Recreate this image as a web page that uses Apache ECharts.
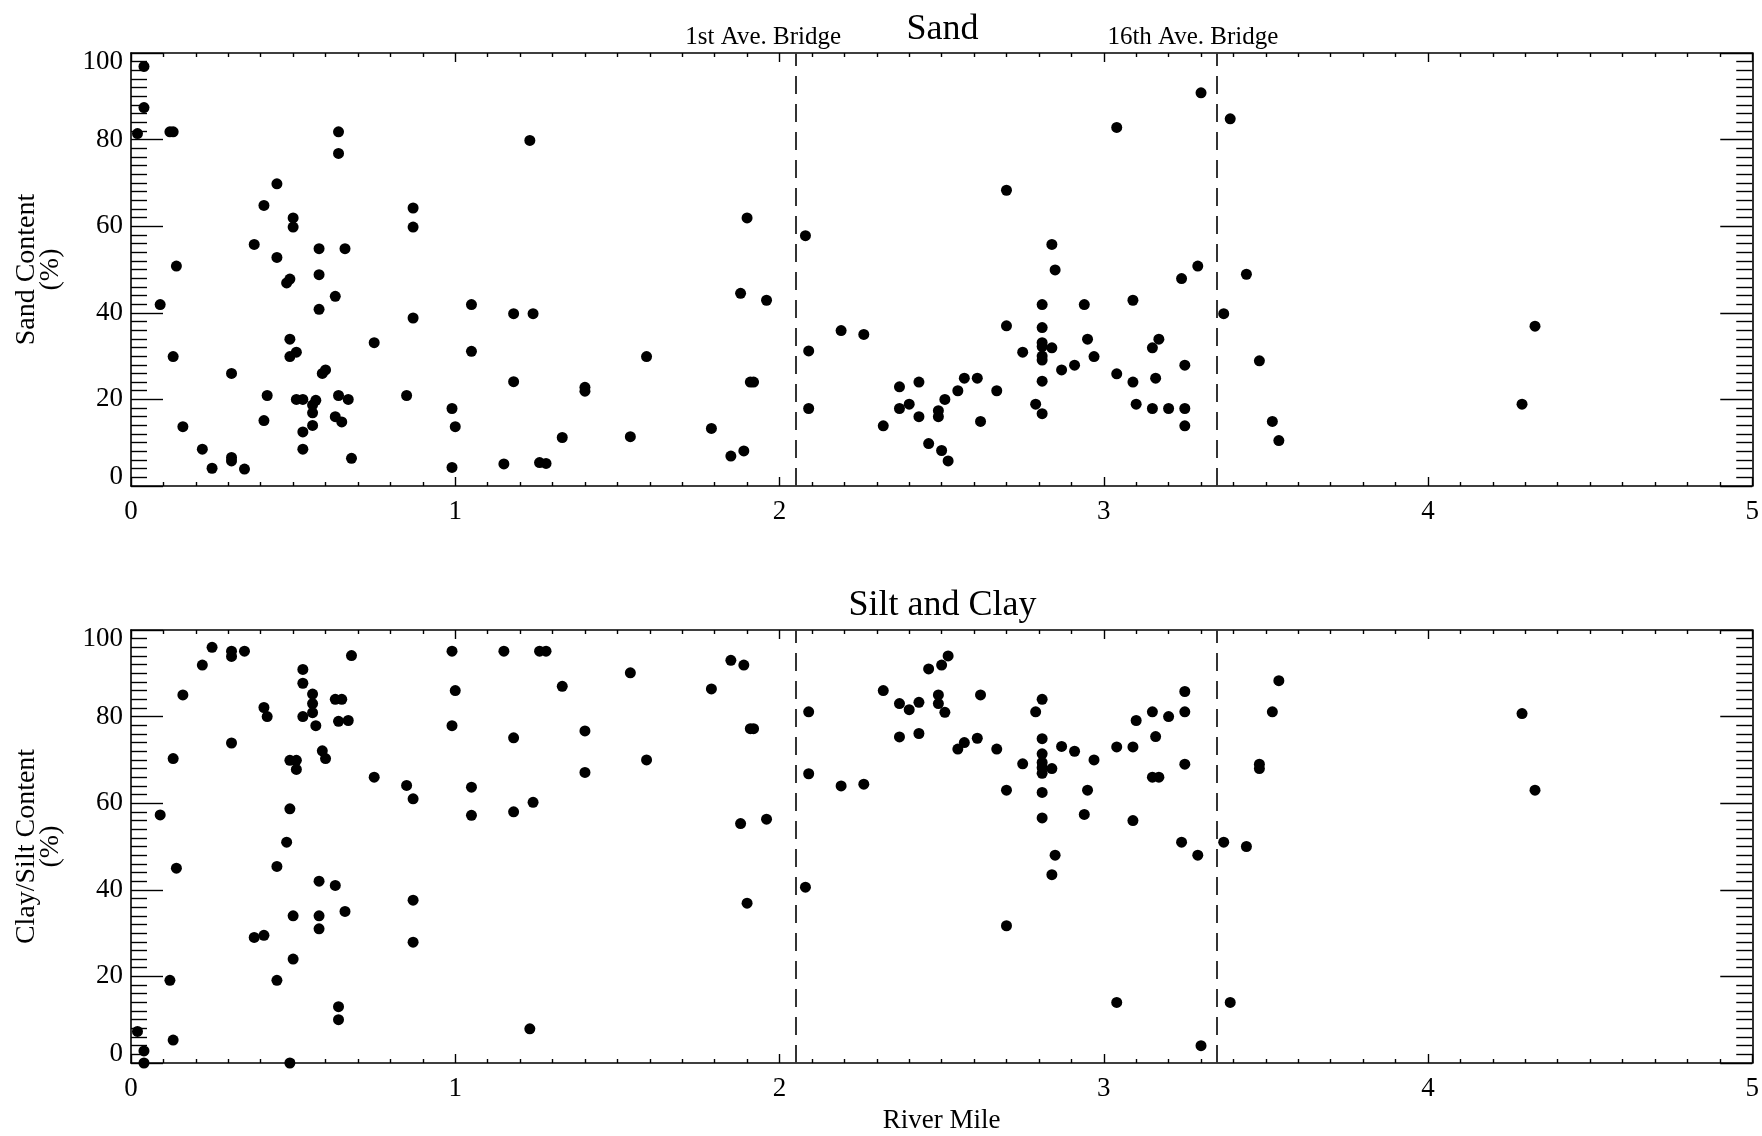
<!DOCTYPE html>
<html>
<head>
<meta charset="utf-8">
<script src="https://cdn.jsdelivr.net/npm/echarts@6/dist/echarts.min.js"></script>
<style>
  * { margin: 0; padding: 0; }
  body { background: #fff; }
  #main { width: 1762px; height: 1136px; }
</style>
</head>
<body>
<div id="main"></div>
<script>
// sand content (%) by river mile
var sandMile = [0.04, 0.04, 0.02, 0.12, 0.13, 0.14, 0.09, 0.13, 0.16, 0.22, 0.25, 0.31, 0.31, 0.31, 0.35,
  0.38, 0.41, 0.41, 0.42, 0.45, 0.45, 0.48, 0.49, 0.49, 0.49, 0.50, 0.50, 0.51, 0.51, 0.53, 0.53, 0.53,
  0.56, 0.56, 0.57, 0.56, 0.58, 0.58, 0.58, 0.59, 0.60, 0.63, 0.63, 0.64, 0.64, 0.64, 0.65, 0.66, 0.67,
  0.68, 0.75, 0.85, 0.87, 0.87, 0.87, 0.99, 0.99, 1.00, 1.05, 1.05, 1.15, 1.18, 1.18, 1.23, 1.24, 1.26,
  1.28, 1.33, 1.40, 1.40,
  1.54, 1.59, 1.79, 1.85, 1.89, 1.88, 1.90, 1.91, 1.92, 1.96, 2.08, 2.09, 2.09, 2.19, 2.26, 2.32, 2.37,
  2.37, 2.40, 2.43, 2.43, 2.46, 2.49, 2.49, 2.50, 2.51, 2.52, 2.55, 2.57, 2.61, 2.62, 2.67, 2.70, 2.70,
  2.75, 2.79, 2.81, 2.81, 2.81, 2.81, 2.81, 2.81, 2.81, 2.81, 2.84, 2.85, 2.84, 2.87, 2.91, 2.94, 2.95,
  2.97, 3.04, 3.04, 3.09, 3.09, 3.10, 3.15, 3.16, 3.17, 3.15, 3.20,
  3.24, 3.25, 3.25, 3.25, 3.29, 3.30, 3.37, 3.39, 3.44, 3.48, 3.52, 3.54, 4.29, 4.33];
var sandPct = [96.9, 87.4, 81.4, 81.8, 81.8, 50.8, 41.9, 29.9, 13.7, 8.5, 4.1, 26.0, 6.6, 5.8, 3.9,
  55.8, 64.8, 15.1, 20.9, 69.8, 52.8, 46.9, 47.8, 33.9, 29.9, 61.9, 59.8, 30.9, 20.0, 20.0, 12.5, 8.5,
  16.9, 18.7, 19.8, 14.0, 54.8, 48.8, 40.8, 26.0, 26.8, 43.8, 16.0, 81.8, 76.8, 20.9, 14.8, 54.8, 20.0,
  6.4, 33.1, 20.9, 64.2, 59.8, 38.8, 17.9, 4.3, 13.7, 41.9, 31.1, 5.1, 39.8, 24.1, 79.8, 39.8, 5.4,
  5.2, 11.2, 22.8, 21.9,
  11.4, 29.9, 13.3, 6.9, 8.1, 44.5, 61.9, 24.0, 24.0, 42.9, 57.8, 31.2, 17.9, 35.9, 35.0, 13.9, 22.9,
  17.9, 18.9, 24.0, 16.0, 9.8, 17.4, 16.0, 8.2, 20.0, 5.8, 22.0, 24.9, 24.9, 14.9, 22.0, 68.3, 37.0,
  30.9, 18.9, 41.9, 36.6, 33.1, 32.2, 30.0, 29.1, 24.2, 16.7, 55.8, 49.9, 31.9, 26.8, 27.9, 41.9, 33.9,
  29.9, 82.8, 25.9, 42.9, 24.0, 18.9, 31.9, 24.9, 33.9, 17.9, 17.9,
  47.9, 27.9, 17.9, 13.9, 50.8, 90.8, 39.8, 84.8, 48.9, 28.9, 14.9, 10.5, 18.9, 36.9];

// clay/silt content (%) by river mile
var finesMile = [0.02, 0.04, 0.04, 0.09, 0.12, 0.13, 0.14, 0.13, 0.16, 0.22, 0.25, 0.31, 0.31, 0.31, 0.35,
  0.38, 0.41, 0.42, 0.41, 0.45, 0.45, 0.48, 0.49, 0.49, 0.51, 0.51, 0.49, 0.50, 0.50, 0.53, 0.53, 0.53,
  0.56, 0.56, 0.56, 0.57, 0.58, 0.58, 0.58, 0.59, 0.60, 0.63, 0.65, 0.64, 0.67, 0.63, 0.66, 0.64, 0.64,
  0.68, 0.75, 0.85, 0.87, 0.87, 0.87, 0.99, 1.00, 0.99, 1.05, 1.05, 1.15, 1.18, 1.18, 1.23, 1.24, 1.26,
  1.28, 1.33, 1.40, 1.40,
  1.54, 1.59, 1.79, 1.85, 1.89, 1.88, 1.91, 1.92, 1.90, 1.96, 2.09, 2.09, 2.08, 2.19, 2.26, 2.32, 2.37,
  2.37, 2.40, 2.43, 2.43, 2.46, 2.49, 2.49, 2.50, 2.51, 2.52, 2.55, 2.57, 2.61, 2.62, 2.67, 2.70, 2.70,
  2.75, 2.79, 2.81, 2.81, 2.81, 2.81, 2.81, 2.81, 2.81, 2.81, 2.84, 2.85, 2.84, 2.87, 2.91, 2.95, 2.94,
  2.97, 3.04, 3.04, 3.09, 3.09, 3.10, 3.15, 3.16, 3.15, 3.17, 3.20,
  3.24, 3.25, 3.25, 3.25, 3.29, 3.30, 3.37, 3.39, 3.44, 3.48, 3.48, 3.52, 3.54, 4.29, 4.33];
var finesPct = [7.3, 2.8, 0, 57.3, 19.1, 70.3, 45.0, 5.3, 85.0, 91.9, 96.0, 95.1, 93.9, 73.9, 95.1,
  29.0, 82.1, 80.0, 29.5, 45.4, 19.1, 51.0, 58.7, 69.9, 69.9, 67.8, 0, 34.0, 24.0, 90.9, 87.7, 80.0,
  85.2, 83.0, 80.9, 77.9, 42.0, 34.0, 31.0, 72.1, 70.3, 84.0, 84.0, 78.9, 79.1, 41.0, 35.0, 13.0, 10.0,
  94.1, 66.0, 64.1, 61.0, 37.6, 27.9, 95.1, 86.0, 77.9, 63.7, 57.2, 95.1, 75.1, 58.0, 7.9, 60.2, 95.1,
  95.1, 87.0, 76.7, 67.1,
  90.1, 70.0, 86.4, 93.0, 91.9, 55.3, 77.2, 77.2, 36.9, 56.3, 81.1, 66.8, 40.6, 64.0, 64.4, 86.0, 83.0,
  75.3, 81.6, 83.3, 76.1, 91.0, 85.0, 83.0, 91.9, 81.0, 94.0, 72.5, 74.0, 75.0, 85.0, 72.5, 63.0, 31.7,
  69.1, 81.1, 84.0, 74.9, 71.4, 69.4, 68.2, 66.9, 62.5, 56.6, 68.0, 48.0, 43.5, 73.1, 72.0, 63.0, 57.4,
  70.0, 73.0, 14.0, 73.0, 56.0, 79.1, 81.1, 75.4, 66.0, 66.0, 80.0,
  51.0, 85.8, 81.1, 69.0, 48.0, 4.0, 51.0, 14.0, 50.0, 69.0, 68.0, 81.1, 88.3, 80.7, 63.0];

var bridgeMile = [2.05, 3.35];
var bridgeName = ['1st Ave. Bridge', '16th Ave. Bridge'];
var bridgeLabelMile = [1.95, 3.275];

var FONT = '"Liberation Serif", "Times New Roman", "DejaVu Serif", serif';
var gridLeft = 131, gridWidth = 1623, gridHeight = 433;
var gridTops = [53, 630];
var pxPerMile = gridWidth / 5;

function pairs(m, p) {
  return m.map(function (x, i) { return [x, p[i]]; });
}

function xAx(g, pos, showLabel, name) {
  return {
    type: 'value', gridIndex: g, position: pos, min: 0, max: 5, interval: 1,
    axisLine: { show: true, onZero: false, lineStyle: { color: '#000', width: 1.6 } },
    axisTick: { show: true, inside: true, length: 9, lineStyle: { color: '#000', width: 1.4 } },
    minorTick: { show: true, splitNumber: 10, length: 4, lineStyle: { color: '#000', width: 1.4 } },
    axisLabel: { show: showLabel, margin: 12, color: '#000', fontFamily: FONT, fontSize: 27 },
    splitLine: { show: false },
    name: name || '', nameLocation: 'middle', nameGap: 44,
    nameTextStyle: { color: '#000', fontFamily: FONT, fontSize: 27 }
  };
}

function yAx(g, pos, showLabel, name) {
  return {
    type: 'value', gridIndex: g, position: pos, min: 0, max: 100, interval: 20,
    axisLine: { show: true, onZero: false, lineStyle: { color: '#000', width: 1.6 } },
    axisTick: { show: true, inside: true, length: 32, lineStyle: { color: '#000', width: 1.4 } },
    minorTick: { show: true, splitNumber: 10, length: 16, lineStyle: { color: '#000', width: 1.4 } },
    axisLabel: {
      show: showLabel, margin: 8, color: '#000', fontFamily: FONT, fontSize: 27,
      formatter: function (v) {
        if (v === 0) return '{lo|0}';
        if (v === 100) return '{hi|100}';
        return String(v);
      },
      rich: {
        lo: { fontFamily: FONT, fontSize: 27, color: '#000', padding: [0, 0, 18, 0] },
        hi: { fontFamily: FONT, fontSize: 27, color: '#000', padding: [18, 0, 0, 0] }
      }
    },
    splitLine: { show: false },
    name: name || '', nameLocation: 'middle', nameRotate: 90, nameGap: 68,
    nameTextStyle: { color: '#000', fontFamily: FONT, fontSize: 28, lineHeight: 24, align: 'center' }
  };
}

function bridgeLines(withLabels) {
  return {
    silent: true, symbol: ['none', 'none'], animation: false,
    lineStyle: { color: '#333', width: 2, type: [18, 10] },
    label: { show: withLabels, position: 'end', distance: 3, color: '#000', fontFamily: FONT, fontSize: 25,
      formatter: function (p) { return p.name; } },
    data: bridgeMile.map(function (m, i) {
      return { xAxis: m, name: bridgeName[i],
        label: { offset: [(bridgeLabelMile[i] - m) * pxPerMile, 0] } };
    })
  };
}

var chart = echarts.init(document.getElementById('main'));
chart.setOption({
  animation: false,
  backgroundColor: '#fff',
  grid: gridTops.map(function (t) {
    return { left: gridLeft, top: t, width: gridWidth, height: gridHeight };
  }),
  xAxis: [xAx(0, 'bottom', true), xAx(0, 'top', false), xAx(1, 'bottom', true, 'River Mile'), xAx(1, 'top', false)],
  yAxis: [yAx(0, 'left', true, 'Sand Content\n(%)'), yAx(0, 'right', false),
    yAx(1, 'left', true, 'Clay/Silt Content\n(%)'), yAx(1, 'right', false)],
  graphic: [
    { type: 'text', x: gridLeft + gridWidth / 2, y: 30, style: { text: 'Sand', align: 'center', verticalAlign: 'middle', fill: '#000', font: '36px ' + FONT } },
    { type: 'text', x: gridLeft + gridWidth / 2, y: 606, style: { text: 'Silt and Clay', align: 'center', verticalAlign: 'middle', fill: '#000', font: '36px ' + FONT } }
  ],
  series: [
    { type: 'scatter', xAxisIndex: 0, yAxisIndex: 0, data: pairs(sandMile, sandPct),
      symbol: 'circle', symbolSize: 11, itemStyle: { color: '#000', opacity: 1 }, markLine: bridgeLines(true) },
    { type: 'scatter', xAxisIndex: 2, yAxisIndex: 2, data: pairs(finesMile, finesPct),
      symbol: 'circle', symbolSize: 11, itemStyle: { color: '#000', opacity: 1 }, markLine: bridgeLines(false) }
  ]
});
</script>
</body>
</html>
